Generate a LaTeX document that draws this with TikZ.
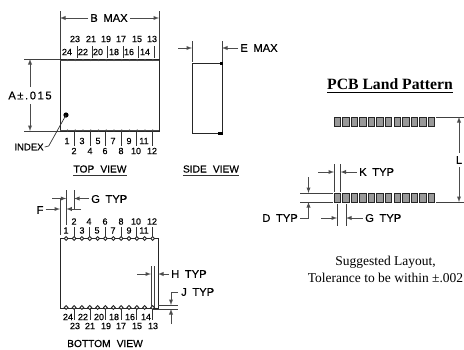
\documentclass[tikz,border=0pt]{standalone}
\usepackage{fontspec}
\setsansfont{Liberation Sans}[FakeBold=0.5]
\setmainfont{Liberation Serif}
\newfontfamily\widesans{Liberation Sans}[FakeBold=0.5,LetterSpace=14]
\usetikzlibrary{arrows}
\newcommand{\cadfont}{\sffamily\fontsize{11.2}{12}\selectfont\spaceskip 0.5em\relax}
\newcommand{\viewfont}{\sffamily\fontsize{10.2}{12}\selectfont\spaceskip 0.6em\relax}
\tikzstyle{outline}=[draw=black!85,line width=1pt]
\tikzstyle{extline}=[draw=black!75,line width=0.7pt]
\tikzstyle{dimline}=[draw=black!70,line width=0.9pt,->,>=latex]
\tikzstyle{leader}=[draw=black!80,line width=0.7pt]
\tikzstyle{cadtext}=[inner sep=0pt,font=\cadfont]
\tikzstyle{pinnum}=[inner sep=0pt,font=\sffamily\fontsize{9}{10}\selectfont]
\tikzstyle{viewtext}=[inner sep=0pt,font=\viewfont]
\tikzstyle{note}=[inner sep=0pt,font=\rmfamily\fontsize{13.5}{17}\selectfont,align=center]
\tikzstyle{landpad}=[draw=black!85,line width=0.7pt,fill=black!40]
\begin{document}
\begin{tikzpicture}[x=1pt,y=-1pt]
  \useasboundingbox (0,0) rectangle (464,349);

  % top view
  \draw[outline] (60,59) rectangle (159,131);
  \draw[outline,black!70] (60,60.5) -- (159,60.5) (60,130) -- (159,130);
  \foreach \i in {0,...,11} {
    \fill[black!70] (67.5+7.75*\i,60) circle[radius=1.1];
    \fill[black!70] (67.5+7.75*\i,130.5) circle[radius=1.1];
  }
  \foreach \x/\name in {67/24, 83/22, 98/20, 114/18, 129/16, 145/14}
    \node[pinnum] (t\name) at (\x,52) {\name};
  \foreach \x/\name in {75/23, 91/21, 106/19, 121/17, 137/15, 152/13}
    \node[pinnum] (t\name) at (\x,39) {\name};
  \foreach \x/\name in {67/1, 82/3, 98/5, 113/7, 129/9, 144/11}
    \node[pinnum] (t\name) at (\x,141) {\name};
  \foreach \x/\name in {74/2, 90/4, 105/6, 121/8, 136/10, 152/12}
    \node[pinnum] (t\name) at (\x,151) {\name};
  \foreach \x in {77,92,107,123,138,154} \draw[leader] (\x,46) -- (\x,58);
  \foreach \x in {74,90,105,121,136,152} \draw[leader] (\x,132) -- (\x,146);

  \coordinate (bl) at (60,18);
  \coordinate (br) at (159,18);
  \node[cadtext] (bmax) at (109,18) {B MAX};
  \draw[extline] (60,11) -- (60,59) (159,11) -- (159,59);
  \draw[dimline] (bmax) ++(-21,0) -- (bl);
  \draw[dimline] (bmax) ++(21,0) -- (br);

  \coordinate (at) at (30,59);
  \coordinate (ab) at (30,131);
  \node[inner sep=0pt,font=\widesans\fontsize{11.2}{12}\selectfont] (adim) at (30,95.5) {A±.015};
  \draw[extline] (24,59) -- (60,59) (24,131) -- (60,131);
  \draw[dimline] (30,87) -- (at);
  \draw[dimline] (30,104) -- (ab);

  \node[inner sep=0pt,font=\sffamily\fontsize{9.5}{10}\selectfont] (index) at (29,147) {INDEX};
  \coordinate (indexdot) at (66,115);
  \fill[black] (indexdot) circle[radius=2.6];
  \draw[leader] (index.east) ++(1,0) -- ++(4,-1) -- (indexdot);

  \node[viewtext] (topview) at (100,169) {TOP VIEW};
  \draw[leader] ([yshift=-2.5pt]topview.south west) -- ([yshift=-2.5pt]topview.south east);

  % side view
  \draw[outline] (192,63) rectangle (222,133);
  \fill[black] (220,61.5) rectangle (223,64.5);
  \fill[black] (218,132) rectangle (223,135);
  \draw[extline] (192,41) -- (192,62) (222,41) -- (222,62);
  \coordinate (el) at (192,48);
  \coordinate (er) at (222,48);
  \node[cadtext] (emax) at (259,48) {E MAX};
  \draw[dimline] (178,48) -- (el);
  \draw[dimline] (emax.west) ++(-2,0) -- (er);
  \node[viewtext] (sideview) at (211,169) {SIDE VIEW};
  \draw[leader] ([yshift=-2.5pt]sideview.south west) -- ([yshift=-2.5pt]sideview.south east);

  % bottom view
  \draw[outline] (60,238) rectangle (158,308);
  \foreach \i in {0,...,11} {
    \draw[line width=0.9pt,draw=black!85,fill=white] (66.2+7.85*\i,238.5) circle[radius=1.9];
    \draw[line width=0.9pt,draw=black!85,fill=white] (66.2+7.85*\i,307.5) circle[radius=1.9];
  }
  \foreach \x/\name in {66/1, 82/3, 97/5, 113/7, 129/9, 144/11}
    \node[pinnum] (b\name) at (\x,230.5) {\name};
  \foreach \x/\name in {74/2, 89/4, 105/6, 121/8, 136/10, 152/12}
    \node[pinnum] (b\name) at (\x,221.5) {\name};
  \foreach \x/\name in {68/24, 83/22, 99/20, 114/18, 130/16, 146/14}
    \node[pinnum] (b\name) at (\x,317) {\name};
  \foreach \x/\name in {75/23, 90/21, 106/19, 121/17, 137/15, 153/13}
    \node[pinnum] (b\name) at (\x,326) {\name};
  \foreach \x in {74,89,105,121,136,152} \draw[leader] (\x,227) -- (\x,237);
  \foreach \x in {74,90,105,121,136,152} \draw[leader] (\x,309) -- (\x,320);

  \draw[extline] (60,198) -- (60,235) (66.3,190) -- (66.3,225) (74,190) -- (74,210);
  \node[cadtext] (fdim) at (40,210) {F};
  \coordinate (fl) at (60,209);
  \coordinate (fr) at (66.3,209);
  \draw[dimline] (fdim.east) ++(2,-1) -- (fl);
  \draw[dimline] (81,209) -- (fr);
  \node[cadtext,anchor=west] (gtop) at (91,199) {G TYP};
  \coordinate (gl) at (66.3,198.5);
  \coordinate (gr) at (74,198.5);
  \draw[dimline] (52,198.5) -- (gl);
  \draw[dimline] (gtop.west) ++(-2,-0.5) -- (gr);

  \draw[extline] (151,266) -- (151,307) (154,266) -- (154,307);
  \node[cadtext,anchor=west] (htyp) at (171,274) {H TYP};
  \coordinate (hl) at (151,274);
  \coordinate (hr) at (158,274);
  \draw[dimline] (137,274) -- (hl);
  \draw[dimline] (htyp.west) ++(-2,0) -- (hr);

  \draw[extline] (158,305) -- (178,305) (153,309) -- (178,309);
  \node[cadtext,anchor=west] (jtyp) at (181,292) {J TYP};
  \coordinate (jt) at (171,305);
  \coordinate (jb) at (171,309);
  \draw[dimline] (jtyp.west) ++(-3,0) -- (171,292) -- (jt);
  \draw[dimline] (171,324) -- (jb);

  \node[viewtext] (bottomview) at (105,343.5) {BOTTOM VIEW};

  % land pattern
  \node[inner sep=0pt,font=\rmfamily\bfseries\fontsize{15.7}{16}\selectfont] (title) at (390,84) {PCB Land Pattern};
  \draw[line width=1.1pt] ([yshift=-3.5pt]title.base west) -- ([yshift=-3.5pt]title.base east);
  \foreach \i in {0,...,11} {
    \draw[landpad] (334+8.55*\i,117) rectangle ++(6.5,9);
    \draw[landpad] (334+8.55*\i,193) rectangle ++(6.5,9);
  }
  \draw[extline] (436,117) -- (465,117) (436,202) -- (465,202);
  \node[cadtext] (ldim) at (459,160) {L};
  \coordinate (lt) at (459,117);
  \coordinate (lb) at (459,202);
  \draw[dimline] (ldim.north) ++(0,-3) -- (lt);
  \draw[dimline] (ldim.south) ++(0,3) -- (lb);

  \draw[extline] (300,193) -- (333,193) (300,202) -- (333,202);
  \node[cadtext,anchor=east] (dtyp) at (298,218) {D TYP};
  \coordinate (dt) at (308.5,193);
  \coordinate (db) at (308.5,202);
  \draw[dimline] (308.5,177) -- (dt);
  \draw[dimline] (dtyp.east) ++(2,0) -- (308.5,218) -- (db);

  \draw[extline] (334,164) -- (334,192) (340.5,164) -- (340.5,192);
  \node[cadtext,anchor=west] (ktyp) at (359,172) {K TYP};
  \coordinate (kl) at (334,172);
  \coordinate (kr) at (340.5,172);
  \draw[dimline] (318,172) -- (kl);
  \draw[dimline] (ktyp.west) ++(-2,0) -- (kr);

  \draw[extline] (337,204) -- (337,226) (346,204) -- (346,226);
  \node[cadtext,anchor=west] (gland) at (365,218) {G TYP};
  \coordinate (gll) at (337,218);
  \coordinate (glr) at (346,218);
  \draw[dimline] (321,218) -- (gll);
  \draw[dimline] (gland.west) ++(-2,0) -- (glr);

  \node[note] (layout) at (385.5,269) {Suggested Layout,\\Tolerance to be within ±.002};
\end{tikzpicture}
\end{document}
